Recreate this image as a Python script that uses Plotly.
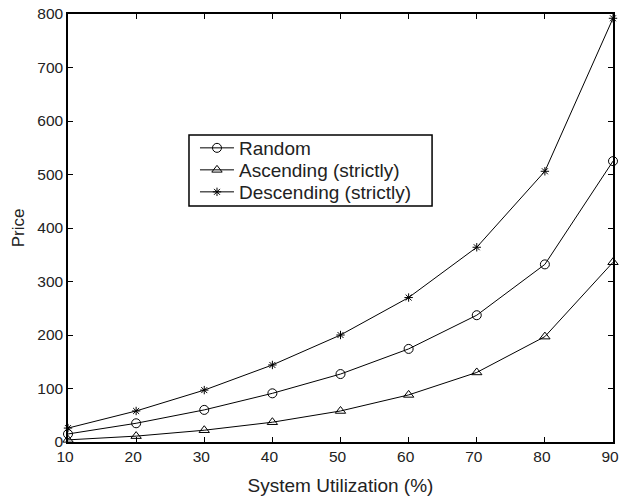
import plotly.graph_objects as go

utilization = [10, 20, 30, 40, 50, 60, 70, 80, 90]
price_random = [15, 35, 60, 91, 127, 174, 237, 332, 525]
price_ascending = [4, 11, 22, 37, 58, 88, 130, 197, 336]
price_descending = [26, 58, 97, 144, 200, 270, 364, 506, 792]

x_ticks = [10, 20, 30, 40, 50, 60, 70, 80, 90]
y_ticks = [0, 100, 200, 300, 400, 500, 600, 700, 800]

FONT = "Liberation Sans, Arial, sans-serif"
INK = "#222"

series = [
    ("Random", price_random, "circle-open", 9, "legend"),
    ("Ascending (strictly)", price_ascending, "triangle-up-open", 9, "legend2"),
    ("Descending (strictly)", price_descending, "asterisk-open", 7, "legend3"),
]

fig = go.Figure()
for name, values, symbol, size, leg in series:
    fig.add_trace(go.Scatter(
        x=utilization, y=values, name=name, mode="lines+markers",
        line=dict(color="black", width=1),
        marker=dict(symbol=symbol, size=size, color="black",
                    line=dict(color="black", width=1)),
        cliponaxis=False, legend=leg,
    ))

axis_common = dict(
    showgrid=False, zeroline=False, showline=True, linecolor="black",
    linewidth=1.5, mirror="ticks", ticks="inside", ticklen=5,
    tickcolor="black", automargin=False,
    tickfont=dict(family=FONT, size=15.5, color=INK),
)

# framed box holding the three legend rows
fig.add_shape(type="rect", xref="paper", yref="paper",
              x0=0.222, x1=0.668, y0=0.5514, y1=0.7173,
              line=dict(color="black", width=1.5), fillcolor="white",
              layer="above")


def legend_row(y):
    return dict(x=0.233, y=y, xanchor="left", yanchor="middle",
                bgcolor="rgba(0,0,0,0)", borderwidth=0,
                font=dict(family=FONT, size=19, color=INK),
                itemwidth=34)


fig.update_layout(
    width=619, height=500,
    margin=dict(l=68, r=6, t=14, b=58),
    paper_bgcolor="white", plot_bgcolor="white",
    font=dict(family=FONT, size=15, color=INK),
    xaxis=dict(range=[10, 90], tickvals=x_ticks, ticklabelshift=-3,
               ticklabeloverflow="allow",
               title=dict(text="System Utilization (%)", standoff=14,
                          font=dict(family=FONT, size=19, color=INK)),
               **axis_common),
    yaxis=dict(range=[0, 800], tickvals=y_ticks,
               title=dict(text="Price", standoff=8,
                          font=dict(family=FONT, size=17, color=INK)),
               **axis_common),
    legend=legend_row(0.6869),
    legend2=legend_row(0.6355),
    legend3=legend_row(0.5841),
    showlegend=True,
)

fig.write_html("out.html")
